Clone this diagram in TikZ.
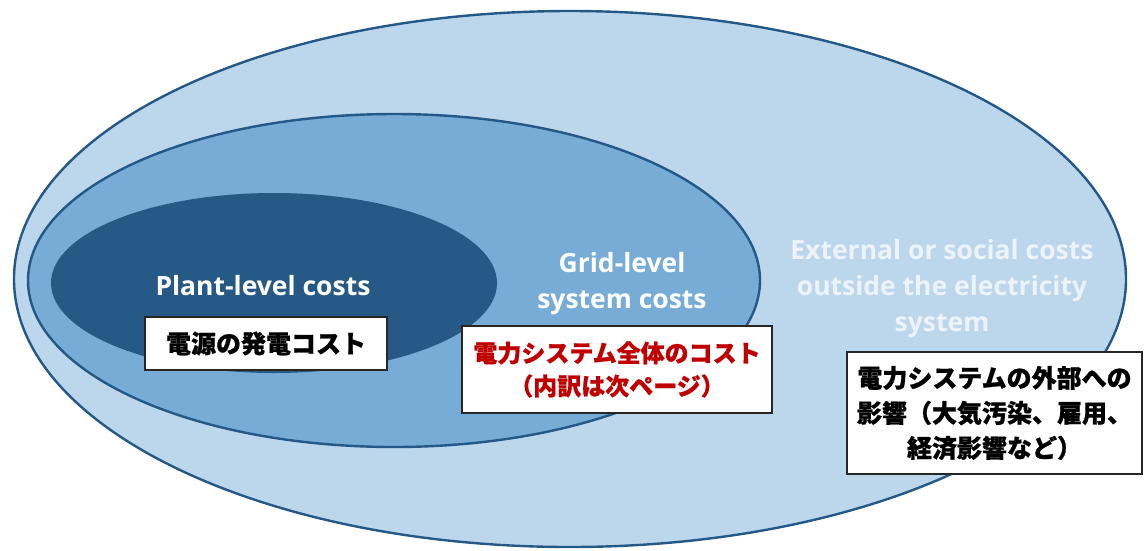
\documentclass[tikz,border=0pt]{standalone}
\usepackage{fontspec}
\setmainfont{Open Sans}
\newfontfamily\cjk{Noto Sans CJK JP}[BoldFeatures={FakeBold=0.8}]
\usetikzlibrary{shapes.geometric}
\definecolor{outerfill}{RGB}{188,214,236}
\definecolor{midfill}{RGB}{119,172,215}
\definecolor{innerfill}{RGB}{38,89,134}
\definecolor{rim}{RGB}{36,88,135}
\definecolor{paletext}{RGB}{236,243,250}
\definecolor{redtext}{RGB}{192,0,0}
\tikzset{
  ring/.style={ellipse, inner sep=0pt, draw=rim, line width=2.4pt},
  engl/.style={inner sep=0pt, align=center, font=\fontsize{26.5}{36}\selectfont\bfseries},
  jbox/.style={draw=black!85, line width=1.3pt, fill=white, inner sep=0pt, align=center,
    font=\cjk\bfseries\fontsize{25}{35}\selectfont},
}
\begin{document}
\begin{tikzpicture}[x=1pt, y=-1pt]
\useasboundingbox (0,0) rectangle (1147,550);
% ellipses
\node[ring, fill=outerfill, minimum width=1112pt, minimum height=536pt] (outer) at (570,279) {};
\node[ring, fill=midfill, minimum width=732pt, minimum height=333pt] (grid) at (394,280.5) {};
\node[ellipse, inner sep=0pt, fill=innerfill, minimum width=446pt, minimum height=180pt] (plant) at (274,283) {};
% english labels
\node[engl, text=white, anchor=base] (plantlbl) at (263,295) {Plant-level costs};
\node[engl, text=white] (gridlbl) at (622,284) {Grid-level\\system costs};
\node[engl, text=paletext] (extlbl) at (942,289) {External or social costs\\outside the electricity\\system};
% japanese boxes
\node[jbox, minimum width=242pt, minimum height=53pt] (box1) at (266,343.5) {電源の発電コスト};
\node[jbox, text=redtext, minimum width=310pt, minimum height=87pt,
  font=\cjk\bfseries\fontsize{24}{33}\selectfont] (box2) at (617,369.5) {電力システム全体のコスト\\（内訳は次ページ）};
\node[jbox, minimum width=295pt, minimum height=122pt] (box3) at (994.5,413) {電力システムの外部への\\影響（大気汚染、雇用、\\経済影響など）};
\end{tikzpicture}
\end{document}
